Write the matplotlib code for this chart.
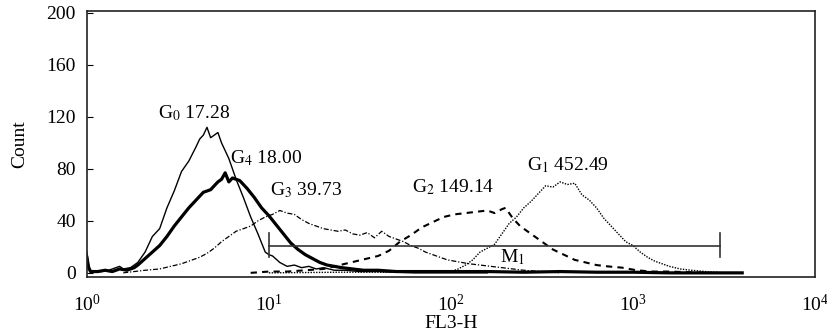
"""FL3-H histogram overlay, five samples G0..G4 with M1 gate."""
import numpy as np
import matplotlib
matplotlib.use("Agg")
import matplotlib.pyplot as plt
from matplotlib.ticker import LogLocator, LogFormatterMathtext, NullLocator

plt.rcParams["font.family"] = ["Liberation Serif", "DejaVu Serif"]
plt.rcParams["mathtext.fontset"] = "stix"

# --- data: log10(FL3-H) and counts ---
g0_log = [0.00, 0.01, 0.02, 0.04, 0.08, 0.12, 0.16, 0.18, 0.20, 0.24, 0.28, 0.32,
          0.36, 0.40, 0.44, 0.48, 0.52, 0.56, 0.60, 0.62, 0.64, 0.66, 0.68, 0.70,
          0.72, 0.74, 0.78, 0.82, 0.86, 0.90, 0.94, 0.98, 1.00, 1.02, 1.06, 1.10,
          1.14, 1.18, 1.22, 1.26, 1.30, 1.36, 1.42, 1.50, 1.60, 1.80, 2.20]
g0_cnt = [16, 6, 2, 1, 1, 2, 4, 5, 3, 4, 8, 16,
          28, 34, 50, 63, 78, 86, 97, 103, 106, 112, 104, 106,
          108, 100, 88, 72, 58, 43, 30, 16, 14, 13, 8, 5,
          6, 4, 5, 3, 4, 2, 2, 1, 1, 0, 0]

g4_log = [0.00, 0.01, 0.02, 0.06, 0.10, 0.14, 0.18, 0.22, 0.26, 0.28, 0.32, 0.36,
          0.40, 0.44, 0.48, 0.52, 0.56, 0.60, 0.64, 0.68, 0.72, 0.74, 0.76, 0.78,
          0.80, 0.84, 0.88, 0.92, 0.96, 1.00, 1.04, 1.08, 1.12, 1.16, 1.20, 1.24,
          1.28, 1.32, 1.36, 1.40, 1.46, 1.52, 1.60, 1.70, 1.80, 2.00, 2.20, 2.40,
          2.60, 2.80, 3.00, 3.20, 3.60]
g4_cnt = [12, 4, 1, 1, 2, 1, 3, 2, 4, 6, 11, 16,
          21, 28, 36, 43, 50, 56, 62, 64, 70, 72, 77, 70,
          73, 71, 65, 58, 50, 44, 37, 30, 23, 18, 14, 11,
          8, 6, 5, 4, 3, 2, 2, 1, 1, 1, 1, 0.5,
          1, 0.5, 0.5, 0, 0]

g3_log = [0.20, 0.26, 0.32, 0.40, 0.46, 0.52, 0.58, 0.62, 0.66, 0.70, 0.74, 0.78,
          0.82, 0.86, 0.90, 0.94, 0.98, 1.02, 1.06, 1.10, 1.14, 1.18, 1.22, 1.26,
          1.30, 1.34, 1.38, 1.42, 1.46, 1.50, 1.54, 1.58, 1.62, 1.66, 1.70, 1.74,
          1.78, 1.82, 1.86, 1.90, 1.94, 1.98, 2.02, 2.06, 2.10, 2.16, 2.22, 2.28,
          2.34, 2.40, 2.50, 2.60]
g3_cnt = [0, 1, 2, 3, 5, 7, 10, 12, 15, 19, 24, 28,
          32, 34, 36, 40, 43, 45, 48, 46, 45, 41, 38, 36,
          34, 33, 32, 33, 30, 29, 31, 27, 32, 28, 26, 24,
          21, 19, 16, 14, 12, 10, 9, 8, 7, 6, 5, 4,
          3, 2, 1, 0]

g2_log = [0.90, 1.00, 1.10, 1.20, 1.30, 1.36, 1.42, 1.48, 1.54, 1.60, 1.66, 1.72,
          1.78, 1.84, 1.90, 1.96, 2.02, 2.08, 2.14, 2.20, 2.24, 2.28, 2.30, 2.34,
          2.38, 2.42, 2.46, 2.50, 2.56, 2.62, 2.68, 2.74, 2.80, 2.86, 2.94, 3.02,
          3.10, 3.20, 3.40]
g2_cnt = [0, 1, 1, 2, 3, 5, 7, 9, 11, 13, 17, 24,
          29, 35, 39, 43, 45, 46, 47, 48, 46, 49, 50, 42,
          36, 32, 28, 24, 18, 14, 10, 8, 6, 5, 4, 2,
          1, 1, 0]

g1_log = [1.00, 1.40, 1.80, 2.00, 2.04, 2.08, 2.12, 2.16, 2.20, 2.24, 2.28, 2.32,
          2.36, 2.40, 2.44, 2.48, 2.52, 2.56, 2.60, 2.64, 2.68, 2.72, 2.76, 2.80,
          2.84, 2.88, 2.92, 2.96, 3.00, 3.04, 3.08, 3.12, 3.16, 3.20, 3.26, 3.32,
          3.40, 3.50]
g1_cnt = [0, 0.5, 0.5, 1, 3, 6, 10, 16, 19, 22, 30, 38,
          43, 50, 55, 61, 67, 66, 70, 68, 69, 60, 56, 50,
          42, 36, 30, 24, 21, 16, 12, 9, 7, 5, 3, 2,
          1, 0]

labels = ["G$_0$ 17.28", "G$_4$ 18.00", "G$_3$ 39.73", "G$_2$ 149.14", "G$_1$ 452.49"]
label_x = [2.45, 6.1, 10.1, 61, 262]
label_y = [123, 88, 64, 66, 83]

m1_start, m1_end, m1_level = 10, 3000, 21
m1_cap = (12, 31)

fig = plt.figure(figsize=(8.27, 3.34), dpi=100)
ax = fig.add_axes([0.105, 0.171, 0.8805, 0.796])

ax.plot(10 ** np.array(g0_log), g0_cnt, color="black", lw=1.0)
ax.plot(10 ** np.array(g4_log), g4_cnt, color="black", lw=2.3)
ax.plot(10 ** np.array(g3_log), g3_cnt, color="black", lw=0.9,
        ls=(0, (4, 1.5, 1, 1.5)))
ax.plot(10 ** np.array(g2_log), g2_cnt, color="black", lw=1.5, ls=(0, (3, 2.5)))
ax.plot(10 ** np.array(g1_log), g1_cnt, color="black", lw=1.0, ls=(0, (1, 1)))

# M1 gate marker
ax.plot([m1_start, m1_end], [m1_level, m1_level], color="#333333", lw=1.2)
ax.plot([m1_start, m1_start], m1_cap, color="#333333", lw=1.2)
ax.plot([m1_end, m1_end], m1_cap, color="#333333", lw=1.2)
ax.text(186, 12, "M$_1$", fontsize=14, ha="left", va="center")

for t, x, y in zip(labels, label_x, label_y):
    ax.text(x, y, t, fontsize=14, ha="left", va="center")

ax.set_xscale("log")
ax.set_xlim(1, 1e4)
ax.set_ylim(-3.1, 201.5)
ax.xaxis.set_major_locator(LogLocator(base=10, numticks=10))
ax.xaxis.set_major_formatter(LogFormatterMathtext())
ax.xaxis.set_minor_locator(NullLocator())
ax.set_yticks([0, 40, 80, 120, 160, 200])
ax.tick_params(axis="x", length=0, pad=12, labelsize=14)
ax.tick_params(axis="y", direction="in", length=4, pad=8, labelsize=14)
for s in ax.spines.values():
    s.set_linewidth(1.2)
    s.set_color("#222222")

ax.set_xlabel("FL3-H", fontsize=14, labelpad=0)
ax.set_ylabel("Count", fontsize=14, labelpad=13)

fig.savefig("out.png", dpi=100)
